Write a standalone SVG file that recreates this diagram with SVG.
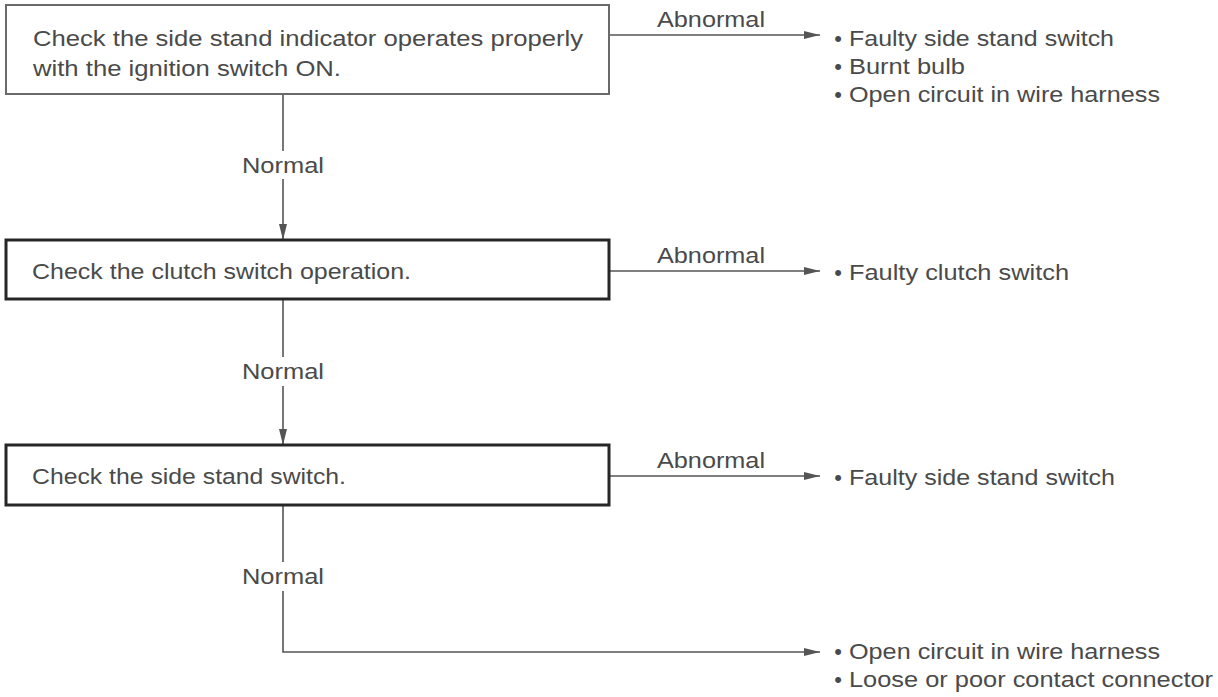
<svg xmlns="http://www.w3.org/2000/svg" width="1218" height="697" viewBox="0 0 1218 697">
<defs>
<style>
.t{font-family:"Liberation Sans",Arial,sans-serif;font-size:22px;fill:#4a4a4a}
.b1{fill:#fff;stroke:#6a6a6a;stroke-width:2}
.b2{fill:#fff;stroke:#262626;stroke-width:3}
.c{fill:none;stroke:#555;stroke-width:1.6}
</style>
<marker id="ah" markerUnits="userSpaceOnUse" markerWidth="18" markerHeight="10" refX="16" refY="4" orient="auto">
<path d="M0,0 L16,4 L0,8 z" fill="#555"/>
</marker>
</defs>
<rect width="1218" height="697" fill="#fff"/>
<g id="connectors">
<path class="c" d="M283,94 V151"/>
<path class="c" d="M283,179 V240" marker-end="url(#ah)"/>
<path class="c" d="M283,299 V357"/>
<path class="c" d="M283,386 V445" marker-end="url(#ah)"/>
<path class="c" d="M283,505 V562"/>
<path class="c" d="M283,591 V652 H820" marker-end="url(#ah)"/>
<path class="c" d="M609,35 H820" marker-end="url(#ah)"/>
<path class="c" d="M609,271 H820" marker-end="url(#ah)"/>
<path class="c" d="M609,476 H820" marker-end="url(#ah)"/>
<text class="t" x="242" y="173" textLength="82" lengthAdjust="spacingAndGlyphs">Normal</text>
<text class="t" x="242" y="379" textLength="82" lengthAdjust="spacingAndGlyphs">Normal</text>
<text class="t" x="242" y="584" textLength="82" lengthAdjust="spacingAndGlyphs">Normal</text>
<text class="t" x="657" y="27" textLength="108" lengthAdjust="spacingAndGlyphs">Abnormal</text>
<text class="t" x="657" y="263" textLength="108" lengthAdjust="spacingAndGlyphs">Abnormal</text>
<text class="t" x="657" y="468" textLength="108" lengthAdjust="spacingAndGlyphs">Abnormal</text>
</g>
<g id="step1">
<rect class="b1" x="6" y="5" width="603" height="89"/>
<text class="t" x="33" y="46" textLength="550" lengthAdjust="spacingAndGlyphs">Check the side stand indicator operates properly</text>
<text class="t" x="33" y="76" textLength="308" lengthAdjust="spacingAndGlyphs">with the ignition switch ON.</text>
</g>
<g id="step2">
<rect class="b2" x="6" y="240" width="603" height="59"/>
<text class="t" x="32" y="279" textLength="379" lengthAdjust="spacingAndGlyphs">Check the clutch switch operation.</text>
</g>
<g id="step3">
<rect class="b2" x="6" y="445" width="603" height="60"/>
<text class="t" x="32" y="484" textLength="314" lengthAdjust="spacingAndGlyphs">Check the side stand switch.</text>
</g>
<g id="result1">
<text class="t" x="838" y="46" text-anchor="middle">•</text>
<text class="t" x="849" y="46" textLength="265" lengthAdjust="spacingAndGlyphs">Faulty side stand switch</text>
<text class="t" x="838" y="74" text-anchor="middle">•</text>
<text class="t" x="849" y="74" textLength="116" lengthAdjust="spacingAndGlyphs">Burnt bulb</text>
<text class="t" x="838" y="102" text-anchor="middle">•</text>
<text class="t" x="849" y="102" textLength="311" lengthAdjust="spacingAndGlyphs">Open circuit in wire harness</text>
</g>
<g id="result2">
<text class="t" x="838" y="280" text-anchor="middle">•</text>
<text class="t" x="849" y="280" textLength="220" lengthAdjust="spacingAndGlyphs">Faulty clutch switch</text>
</g>
<g id="result3">
<text class="t" x="838" y="485" text-anchor="middle">•</text>
<text class="t" x="849" y="485" textLength="266" lengthAdjust="spacingAndGlyphs">Faulty side stand switch</text>
</g>
<g id="result4">
<text class="t" x="838" y="659" text-anchor="middle">•</text>
<text class="t" x="849" y="659" textLength="311" lengthAdjust="spacingAndGlyphs">Open circuit in wire harness</text>
<text class="t" x="838" y="687" text-anchor="middle">•</text>
<text class="t" x="849" y="687" textLength="364" lengthAdjust="spacingAndGlyphs">Loose or poor contact connector</text>
</g>
</svg>
